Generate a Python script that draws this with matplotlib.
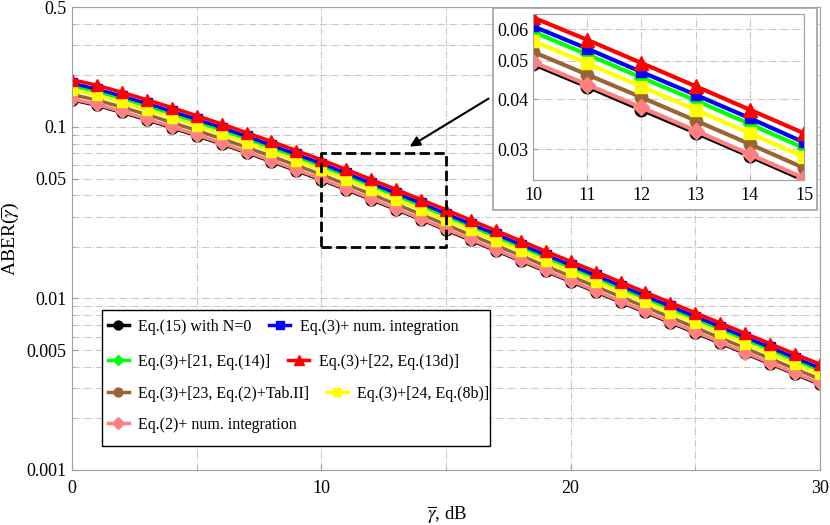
import numpy as np
import matplotlib
matplotlib.use("Agg")
from matplotlib import pyplot as plt
from matplotlib.patches import Rectangle
from matplotlib.ticker import FixedLocator, NullFormatter, LogLocator

plt.rcParams['font.family'] = ['Liberation Serif', 'DejaVu Serif']
plt.rcParams['mathtext.fontset'] = 'stix'

snr_db = np.arange(0, 31)

aber_eq15 = [0.1440, 0.1335, 0.1215, 0.1100, 0.0990, 0.0888, 0.0795, 0.0708, 0.0628, 0.0556,
             0.0491, 0.0431, 0.0377, 0.0330, 0.0288, 0.0251, 0.0218, 0.0190, 0.01655, 0.01440,
             0.01255, 0.01094, 0.00953, 0.00830, 0.00723, 0.00630, 0.00549, 0.00478, 0.00416,
             0.00362, 0.00316]
aber_eq2_num = [0.1457, 0.1351, 0.1230, 0.1113, 0.1002, 0.0899, 0.0805, 0.0716, 0.0636, 0.0563,
                0.0497, 0.0436, 0.0382, 0.0334, 0.0291, 0.0254, 0.0221, 0.0192, 0.01675, 0.01457,
                0.01270, 0.01107, 0.00964, 0.00840, 0.00732, 0.00638, 0.00556, 0.00484, 0.00421,
                0.00366, 0.00320]
aber_ref23 = [0.1545, 0.1432, 0.1304, 0.1180, 0.1062, 0.0953, 0.0853, 0.0760, 0.0674, 0.0597,
              0.0527, 0.0462, 0.0405, 0.0354, 0.0309, 0.0269, 0.0234, 0.0204, 0.01776, 0.01545,
              0.01347, 0.01174, 0.01023, 0.00891, 0.00776, 0.00676, 0.00589, 0.00513, 0.00446,
              0.00388, 0.00339]
aber_ref24 = [0.1646, 0.1526, 0.1389, 0.1257, 0.1132, 0.1015, 0.0909, 0.0809, 0.0718, 0.0636,
              0.0561, 0.0493, 0.0431, 0.0377, 0.0329, 0.0287, 0.0249, 0.0217, 0.01892, 0.01646,
              0.01434, 0.01250, 0.01089, 0.00949, 0.00826, 0.00720, 0.00628, 0.00546, 0.00475,
              0.00414, 0.00361]
aber_ref21 = [0.1735, 0.1609, 0.1464, 0.1326, 0.1193, 0.1070, 0.0958, 0.0853, 0.0757, 0.0670,
              0.0592, 0.0519, 0.0454, 0.0398, 0.0347, 0.0302, 0.0263, 0.0229, 0.01994, 0.01735,
              0.01512, 0.01318, 0.01148, 0.01000, 0.00871, 0.00759, 0.00662, 0.00576, 0.00501,
              0.00436, 0.00381]
aber_eq3_num = [0.1793, 0.1662, 0.1513, 0.1370, 0.1233, 0.1106, 0.0990, 0.0881, 0.0782, 0.0692,
                0.0611, 0.0537, 0.0469, 0.0411, 0.0359, 0.0312, 0.0271, 0.0237, 0.02060, 0.01793,
                0.01562, 0.01362, 0.01186, 0.01033, 0.00900, 0.00784, 0.00684, 0.00595, 0.00518,
                0.00451, 0.00393]
aber_ref22 = [0.1886, 0.1749, 0.1592, 0.1441, 0.1297, 0.1163, 0.1041, 0.0927, 0.0823, 0.0728,
              0.0643, 0.0565, 0.0494, 0.0432, 0.0377, 0.0329, 0.0286, 0.0249, 0.02168, 0.01886,
              0.01644, 0.01433, 0.01248, 0.01087, 0.00947, 0.00825, 0.00719, 0.00626, 0.00545,
              0.00474, 0.00414]

# label, data, color, marker, size   (drawing order: bottom first)
series = [
    ("Eq.(15) with N=0", aber_eq15, "black", "o", 8),
    ("Eq.(3)+[23, Eq.(2)+Tab.II]", aber_ref23, "#996633", "o", 8),
    ("Eq.(3)+[21, Eq.(14)]", aber_ref21, "#00ff00", "D", 6.5),
    ("Eq.(3)+ num. integration", aber_eq3_num, "#0000ff", "s", 6.5),
    ("Eq.(2)+ num. integration", aber_eq2_num, "#ff8080", "D", 7.5),
    ("Eq.(3)+[24, Eq.(8b)]", aber_ref24, "#ffff00", "s", 7.5),
    ("Eq.(3)+[22, Eq.(13d)]", aber_ref22, "#ff0000", "^", 8.5),
]

fig = plt.figure(figsize=(8.3, 5.25), dpi=100)
ax = fig.add_axes([72 / 830, 1 - 470 / 525, 748 / 830, 463 / 525])

lines = {}
for label, data, col, mk, ms in series:
    ln, = ax.plot(snr_db, data, color=col, lw=2.5, marker=mk, ms=ms, label=label)
    lines[label] = ln

ax.set_yscale('log')
ax.set_xlim(0, 30)
ax.set_ylim(0.001, 0.5)
ax.set_xticks([0, 10, 20, 30])
ax.xaxis.set_minor_locator(FixedLocator(np.arange(0, 31, 5)))
ax.set_yticks([0.001, 0.005, 0.01, 0.05, 0.1, 0.5])
ax.set_yticklabels(["0.001", "0.005", "0.01", "0.05", "0.1", "0.5"])
ax.yaxis.set_minor_locator(LogLocator(base=10, subs=np.arange(2, 10)))
ax.yaxis.set_minor_formatter(NullFormatter())
ax.grid(True, which='both', color='#c8c8c8', ls='-.', lw=0.8)
ax.set_axisbelow(True)
for s in ax.spines.values():
    s.set_color('#a0a0a0')
ax.tick_params(axis='both', which='both', direction='in', color='#a0a0a0', labelsize=13)
ax.tick_params(axis='x', pad=7)
ax.tick_params(axis='y', pad=4)
ax.tick_params(which='major', length=4)
ax.tick_params(which='minor', length=2)

ax.set_xlabel(r"$\overline{\gamma}$, dB", fontsize=13.5)
ax.xaxis.set_label_coords(0.501, -0.075)
ax.set_ylabel(r"ABER($\overline{\gamma}$)", fontsize=14)
ax.yaxis.set_label_coords(-0.068, 0.50)

# zoom box and arrow
ax.plot([10, 15, 15, 10, 10], [0.02, 0.02, 0.07, 0.07, 0.02], color='black', ls='--', lw=2, zorder=5)
ax.annotate("", xy=(13.45, 0.0753), xytext=(16.8, 0.149),
            arrowprops=dict(arrowstyle='-|>', color='black', lw=1.5, mutation_scale=15), zorder=6)

# legend, built row by row inside a hand drawn frame
fig.patches.append(Rectangle((102 / 830, 1 - 446 / 525), 388 / 830, 136 / 525,
                             transform=fig.transFigure, facecolor='white', edgecolor='black',
                             lw=1.0, zorder=10))
rows = [
    ["Eq.(15) with N=0", "Eq.(3)+ num. integration"],
    ["Eq.(3)+[21, Eq.(14)]", "Eq.(3)+[22, Eq.(13d)]"],
    ["Eq.(3)+[23, Eq.(2)+Tab.II]", "Eq.(3)+[24, Eq.(8b)]"],
    ["Eq.(2)+ num. integration"],
]
row_y = [327, 362, 394, 425]
for labs, yy in zip(rows, row_y):
    leg = fig.legend(handles=[lines[l] for l in labs], labels=labs, ncol=len(labs),
                     loc='center left', bbox_to_anchor=(108 / 830, 1 - yy / 525),
                     frameon=False, fontsize=11.5, handlelength=1.3, handletextpad=0.6,
                     columnspacing=1.1, borderpad=0, borderaxespad=0, markerscale=0.8)
    leg.set_zorder(11)

# inset
fig.patches.append(Rectangle((493 / 830, 1 - 210 / 525), 324 / 830, 202 / 525,
                             transform=fig.transFigure, facecolor='white', edgecolor='#a0a0a0',
                             lw=1.2, zorder=3))
axin = fig.add_axes([533 / 830, 1 - 180 / 525, 271 / 830, 166 / 525])
axin.set_zorder(4)
for label, data, col, mk, ms in series:
    axin.plot(snr_db, data, color=col, lw=3, marker=mk, ms=ms + 1)
axin.set_yscale('log')
axin.set_xlim(10, 15)
axin.set_ylim(0.0251, 0.0656)
axin.set_xticks(range(10, 16))
axin.set_yticks([0.03, 0.04, 0.05, 0.06])
axin.set_yticklabels(["0.03", "0.04", "0.05", "0.06"])
axin.yaxis.set_minor_locator(FixedLocator([]))
axin.yaxis.set_minor_formatter(NullFormatter())
axin.grid(True, color='#c8c8c8', ls='-.', lw=0.8)
axin.set_axisbelow(True)
for s in axin.spines.values():
    s.set_color('#a0a0a0')
axin.tick_params(axis='both', direction='in', color='#a0a0a0', labelsize=13, length=3)
axin.tick_params(axis='x', pad=5)
axin.tick_params(axis='y', pad=3)

fig.savefig("out.png", dpi=100)
